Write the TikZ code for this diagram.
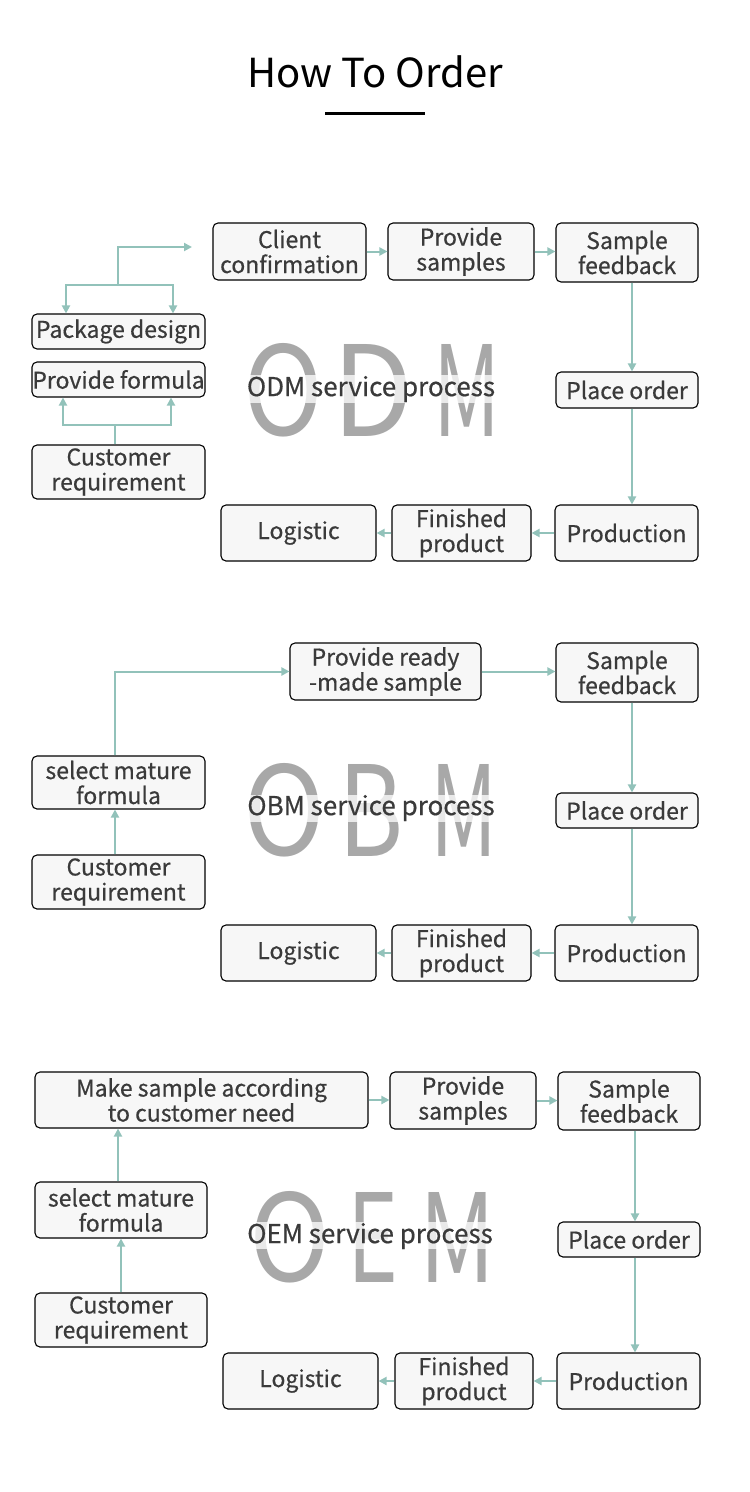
\documentclass[tikz,border=0pt]{standalone}
\usepackage{fontspec}
\usepackage{graphicx}
\setmainfont{Noto Sans CJK SC}
\newfontfamily\boxfont[FakeBold=0.5]{Noto Sans CJK SC}
\newfontfamily\bigfont{Noto Sans CJK SC}
\usetikzlibrary{arrows.meta}
\definecolor{boxfill}{HTML}{F7F7F7}
\definecolor{conncol}{HTML}{92C2BA}
\definecolor{bigcol}{HTML}{A8A8A8}
\definecolor{txtcol}{HTML}{3A3A3A}
\tikzset{
  box/.style={draw=black, line width=1.1, rounded corners=5, fill=boxfill, align=center,
    text=txtcol, inner sep=0, font=\boxfont\fontsize{23}{25}\selectfont},
  conn/.style={draw=conncol, line width=2},
  arr/.style={conn, -{Triangle[length=8,width=8]}},
  bigletter/.style={inner sep=0, anchor=south west, text=bigcol},
  band/.style={fill=white, opacity=0.75},
  svc/.style={inner sep=0, text=txtcol, font=\boxfont\fontsize{26}{28}\selectfont},
}
\newcommand\bx[6]{\node[box, minimum width={#4-#2}, minimum height={#5-#3}] (#1) at ({(#2+#4)/2},{(#3+#5)/2}) {#6};}
\newcommand\bigltr[6]{\node[bigletter] (#1) at (#2,#5) {\resizebox{#3pt}{#4pt}{\bigfont #6}};}
\begin{document}
\begin{tikzpicture}[x=1pt,y=-1pt]
\useasboundingbox (0,0) rectangle (750,1492);
% title
\node[inner sep=0, font=\fontsize{40}{44}\selectfont] (title) at (375,72) {How To Order};
\draw[line width=3] (325,113) coordinate (ul1) -- (425,113) coordinate (ul2);

% ===== ODM =====
\bigltr{odmO}{243}{80}{92}{437}{O}
\bigltr{odmD}{332}{81}{92}{437}{D}
\bigltr{odmM}{433}{67}{92}{437}{M}
\fill[band] (240,375) rectangle (502,403);
\node[svc] (svc1) at (371,389) {ODM service process};

\bx{cc1}{213}{223}{366}{280}{Client\\confirmation}
\bx{ps1}{388}{223}{534}{280}{Provide\\samples}
\bx{sf1}{556}{223}{698}{282}{Sample\\feedback}
\bx{po1}{556}{372}{698}{408}{Place order}
\bx{pr1}{555}{505}{698}{561}{Production}
\bx{fp1}{392}{505}{531}{561}{Finished\\product}
\bx{lg1}{221}{505}{376}{561}{Logistic}
\bx{pd1}{32}{314}{205}{349}{Package design}
\bx{pf1}{32}{362}{205}{397}{Provide formula}
\bx{cr1}{32}{445}{205}{499}{Customer\\requirement}

\coordinate (j1) at (115,425);
\draw[conn] (cr1.north -| j1) -- (j1);
\draw[arr] (j1) -| (63,0 |- pf1.south);
\draw[arr] (j1) -| (171,0 |- pf1.south);
\coordinate (j2) at (118,285);
\coordinate (free1) at (192,247);
\draw[arr] (j2) |- (free1);
\draw[arr] (j2) -| (66,0 |- pd1.north);
\draw[arr] (j2) -| (173,0 |- pd1.north);
\draw[arr] (cc1.east) -- (ps1.west);
\draw[arr] (ps1.east) -- (ps1.east -| sf1.west);
\draw[arr] (sf1.south -| 632,0) -- (po1.north -| 632,0);
\draw[arr] (po1.south -| 632,0) -- (pr1.north -| 632,0);
\draw[arr] (pr1.west) -- (fp1.east);
\draw[arr] (fp1.west) -- (lg1.east);

% ===== OBM =====
\bigltr{obmO}{243}{82}{92}{857}{O}
\bigltr{obmB}{338}{65}{92}{857}{B}
\bigltr{obmM}{430}{67}{92}{857}{M}
\fill[band] (240,795) rectangle (500,822);
\node[svc] (svc2) at (371,808) {OBM service process};

\bx{rm2}{290}{643}{481}{700}{Provide ready\\-made sample}
\bx{sf2}{556}{643}{698}{702}{Sample\\feedback}
\bx{po2}{556}{793}{698}{828}{Place order}
\bx{pr2}{555}{925}{698}{981}{Production}
\bx{fp2}{392}{925}{531}{981}{Finished\\product}
\bx{lg2}{221}{925}{376}{981}{Logistic}
\bx{sm2}{32}{756}{205}{809}{select mature\\formula}
\bx{cr2}{32}{855}{205}{909}{Customer\\requirement}

\draw[arr] (cr2.north -| 115,0) -- (sm2.south -| 115,0);
\draw[arr] (sm2.north -| 115,0) |- (rm2.west);
\draw[arr] (rm2.east) -- (rm2.east -| sf2.west);
\draw[arr] (sf2.south -| 632,0) -- (po2.north -| 632,0);
\draw[arr] (po2.south -| 632,0) -- (pr2.north -| 632,0);
\draw[arr] (pr2.west) -- (fp2.east);
\draw[arr] (fp2.west) -- (lg2.east);

% ===== OEM =====
\bigltr{oemO}{249}{81}{90}{1283}{O}
\bigltr{oemE}{347}{51}{90}{1283}{E}
\bigltr{oemM}{419}{76}{90}{1283}{M}
\fill[band] (246,1222) rectangle (497,1249);
\node[svc] (svc3) at (370,1236) {OEM service process};

\bx{ms3}{35}{1072}{368}{1128}{Make sample according\\to customer need}
\bx{ps3}{390}{1072}{536}{1129}{Provide\\samples}
\bx{sf3}{558}{1072}{700}{1130}{Sample\\feedback}
\bx{po3}{558}{1222}{700}{1257}{Place order}
\bx{pr3}{557}{1353}{700}{1409}{Production}
\bx{fp3}{395}{1353}{533}{1409}{Finished\\product}
\bx{lg3}{223}{1353}{378}{1409}{Logistic}
\bx{sm3}{35}{1182}{207}{1238}{select mature\\formula}
\bx{cr3}{35}{1293}{207}{1347}{Customer\\requirement}

\draw[arr] (cr3.north) -- (sm3.south);
\draw[arr] (sm3.north -| 118,0) -- (ms3.south -| 118,0);
\draw[arr] (ms3.east) -- (ms3.east -| ps3.west);
\draw[arr] (ps3.east) -- (ps3.east -| sf3.west);
\draw[arr] (sf3.south -| 635,0) -- (po3.north -| 635,0);
\draw[arr] (po3.south -| 635,0) -- (pr3.north -| 635,0);
\draw[arr] (pr3.west) -- (fp3.east);
\draw[arr] (fp3.west) -- (lg3.east);
\end{tikzpicture}
\end{document}
